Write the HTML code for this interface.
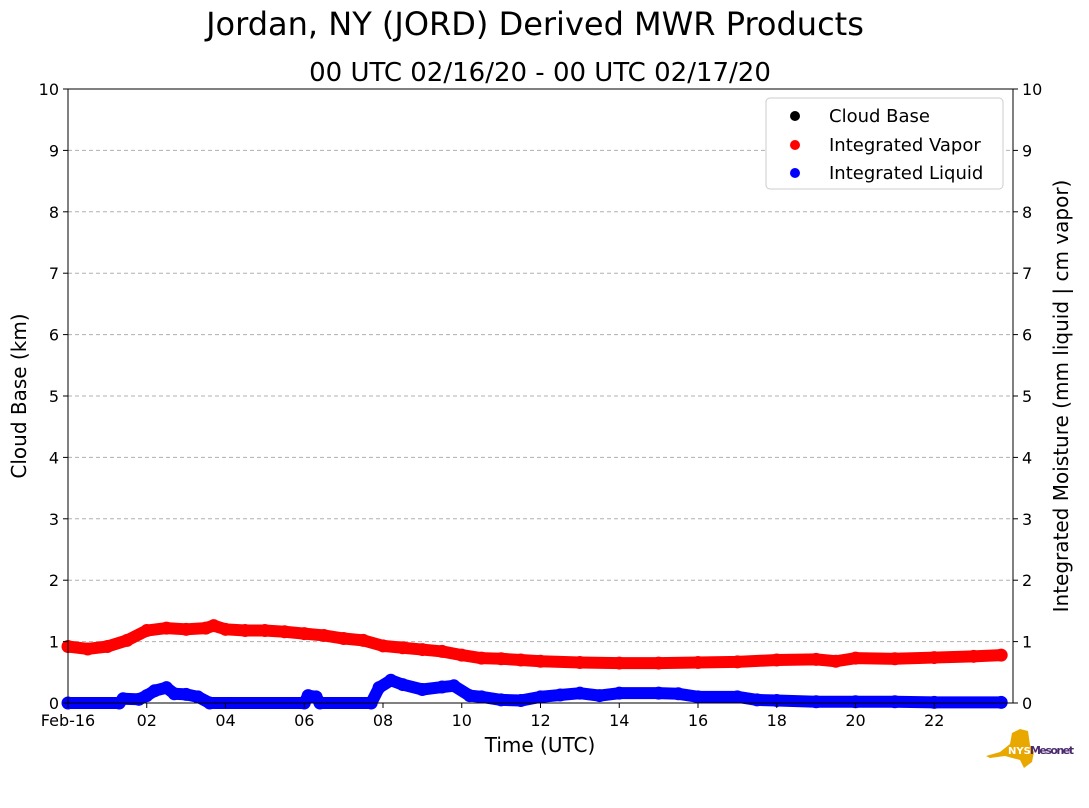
<!DOCTYPE html>
<html><head><meta charset="utf-8"><style>
body{margin:0;background:#fff;font-family:"DejaVu Sans","Liberation Sans",sans-serif;}
svg text{font-family:"DejaVu Sans","Liberation Sans",sans-serif;}
</style></head><body>
<svg id="c" width="1089" height="804" xmlns="http://www.w3.org/2000/svg">
<text x="535" y="35" font-size="32" text-anchor="middle">Jordan, NY (JORD) Derived MWR Products</text>
<text x="540" y="81" font-size="26" text-anchor="middle">00 UTC 02/16/20 - 00 UTC 02/17/20</text>
<g id="grid"></g><g id="series"></g><g id="axes"></g>
<text transform="translate(26,396) rotate(-90)" font-size="20" text-anchor="middle">Cloud Base (km)</text>
<text transform="translate(1068,396) rotate(-90)" font-size="20" text-anchor="middle">Integrated Moisture (mm liquid | cm vapor)</text>
<text x="540" y="752" font-size="20" text-anchor="middle">Time (UTC)</text>
<g>
<rect x="766" y="98" width="237" height="91" rx="4" fill="#fff" stroke="#ccc"/>
<circle cx="795" cy="116" r="5" fill="#000"/><text x="829" y="122" font-size="18">Cloud Base</text>
<circle cx="795" cy="145" r="5" fill="#f00"/><text x="829" y="151" font-size="18">Integrated Vapor</text>
<circle cx="795" cy="173" r="5" fill="#00f"/><text x="829" y="179" font-size="18">Integrated Liquid</text>
</g>
<g>
<path d="M986,756 L1000,752 L1010,744 L1012,733 L1020,729 L1028,731 L1030,745 L1034,752 L1032,762 L1024,768 L1020,760 L1005,756 L990,758 Z" fill="#e8a800"/>
<text x="1008" y="754" font-size="10" font-weight="bold" fill="#fff">NYS</text>
<text x="1030" y="754" font-size="11" font-weight="bold" fill="#4b2a6e" textLength="44">Mesonet</text>
</g>
</svg>
<script>
const vaporT=[0,0.5,1,1.5,2,2.5,3,3.5,3.7,4,4.5,5,5.5,6,6.5,7,7.5,8,8.5,9,9.5,10,10.5,11,11.5,12,13,14,15,16,17,18,19,19.5,20,21,22,23,23.7];
const vaporV=[0.92,0.88,0.92,1.02,1.18,1.22,1.2,1.22,1.26,1.2,1.18,1.18,1.16,1.13,1.1,1.05,1.02,0.93,0.9,0.87,0.84,0.78,0.73,0.72,0.7,0.68,0.66,0.65,0.65,0.66,0.67,0.7,0.71,0.68,0.73,0.72,0.74,0.76,0.78];
const liqT=[0,1.3,1.4,1.8,2,2.2,2.5,2.7,3,3.3,3.6,6,6.1,6.3,6.4,7.7,7.9,8.2,8.5,9,9.5,9.8,10.2,10.5,11,11.5,12,12.5,13,13.5,14,15,15.5,16,17,17.5,18,19,20,21,22,23.7];
const liqV=[0,0,0.07,0.06,0.12,0.2,0.25,0.15,0.14,0.1,0,0,0.12,0.1,0,0,0.25,0.37,0.3,0.22,0.26,0.28,0.12,0.1,0.05,0.04,0.1,0.13,0.16,0.12,0.16,0.16,0.15,0.1,0.1,0.05,0.04,0.02,0.02,0.02,0.01,0.01];
const yTicks=[0,1,2,3,4,5,6,7,8,9,10];
const xTicks=[0,2,4,6,8,10,12,14,16,18,20,22];
const xLabels=["Feb-16","02","04","06","08","10","12","14","16","18","20","22"];
const X0=68,X1=1013,Y0=703,Y1=89;
const sx=h=>X0+h*(X1-X0)/24, sy=v=>Y0-v*(Y0-Y1)/10;
const NS="http://www.w3.org/2000/svg";
function mk(tag,attrs,parent){const e=document.createElementNS(NS,tag);for(const k in attrs)e.setAttribute(k,attrs[k]);document.getElementById(parent).appendChild(e);return e;}
yTicks.forEach(v=>{
 if(v>0&&v<10){const g=mk('line',{x1:X0,x2:X1,y1:sy(v),y2:sy(v),stroke:'#b0b0b0','stroke-dasharray':'4,3'},'grid');
 
 }
 [[X0,-1],[X1,1]].forEach(([x,d])=>{
  mk('line',{x1:x,x2:x+d*5,y1:sy(v),y2:sy(v),stroke:'#000'},'axes');
  const t=mk('text',{x:d<0?x-9:x+9,y:sy(v)+6,'font-size':16,'text-anchor':d<0?'end':'start'},'axes');t.textContent=v;
  
  
 });
});
xTicks.forEach((h,i)=>{
 mk('line',{x1:sx(h),x2:sx(h),y1:Y0,y2:Y0+5,stroke:'#000'},'axes');
 const t=mk('text',{x:sx(h),y:Y0+23,'font-size':16,'text-anchor':'middle'},'axes');t.textContent=xLabels[i];
 
 
});
mk('rect',{x:X0,y:Y1,width:X1-X0,height:Y0-Y1,fill:'none',stroke:'#000'},'axes');
function series(T,V,col,name){
 const p=T.map((t,i)=>sx(t)+','+sy(V[i])).join(' ');
 const l=mk('polyline',{points:p,fill:'none',stroke:col,'stroke-width':12,'stroke-linejoin':'round','stroke-linecap':'round'},'series');
 
 
 T.forEach((t,i)=>{const c=mk('circle',{cx:sx(t),cy:sy(V[i]),r:6.5,fill:col},'series');
  
  });
}
series(vaporT,vaporV,'#f00','integrated-vapor-series');
series(liqT,liqV,'#00f','integrated-liquid-series');
</script>
</body></html>
